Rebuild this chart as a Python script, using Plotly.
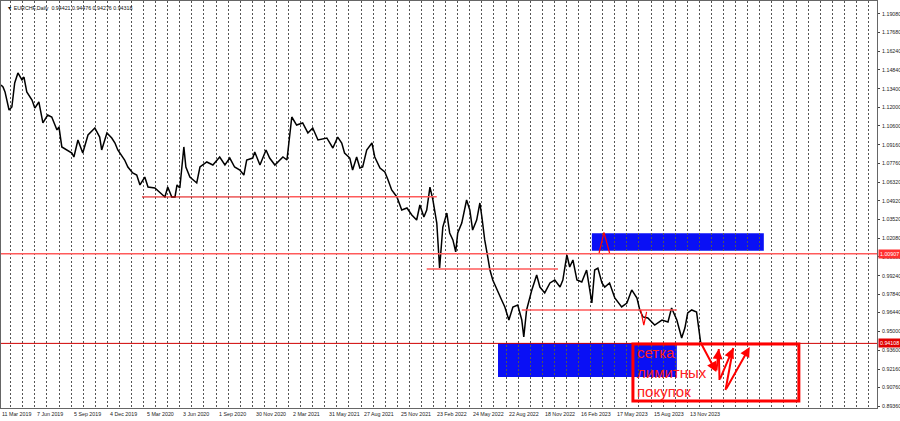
import plotly.graph_objects as go

# ---------------- data ----------------
dates = [
 "2019-03-11","2019-03-16","2019-03-21","2019-03-31","2019-04-07","2019-04-14","2019-04-22","2019-05-02","2019-05-07","2019-05-14",
 "2019-05-27","2019-06-03","2019-06-13","2019-06-23","2019-07-05","2019-07-15","2019-07-28","2019-08-02","2019-08-09","2019-08-21",
 "2019-09-03","2019-09-08","2019-09-18","2019-09-30","2019-10-13","2019-10-30","2019-11-11","2019-11-16","2019-11-29","2019-12-11",
 "2019-12-19","2019-12-26","2020-01-12","2020-01-20","2020-02-01","2020-02-11","2020-02-19","2020-03-02","2020-03-10","2020-03-27",
 "2020-04-08","2020-04-21","2020-04-28","2020-05-08","2020-05-16","2020-05-21","2020-05-28","2020-06-02","2020-06-07","2020-06-12",
 "2020-06-22","2020-07-09","2020-07-17","2020-08-03","2020-08-18","2020-09-04","2020-09-17","2020-09-29","2020-10-11","2020-10-24",
 "2020-11-03","2020-11-10","2020-11-25","2020-11-30","2020-12-13","2020-12-28","2021-01-06","2021-01-19","2021-01-26","2021-02-08",
 "2021-02-18","2021-02-25","2021-03-02","2021-03-14","2021-03-29","2021-04-11","2021-04-23","2021-05-06","2021-05-28","2021-06-12",
 "2021-06-24","2021-07-04","2021-07-11","2021-07-24","2021-07-31","2021-08-10","2021-08-18","2021-08-25","2021-09-04","2021-09-17",
 "2021-09-24","2021-10-07","2021-10-19","2021-10-27","2021-11-05","2021-11-18","2021-11-30","2021-12-13","2021-12-25","2022-01-06",
 "2022-01-14","2022-01-24","2022-01-31","2022-02-08","2022-02-15","2022-02-25","2022-03-04","2022-03-12","2022-03-22","2022-03-29",
 "2022-04-06","2022-04-13","2022-04-18","2022-04-28","2022-05-10","2022-05-18","2022-05-25","2022-06-04","2022-06-12","2022-06-17",
 "2022-06-24","2022-07-02","2022-07-07","2022-07-14","2022-07-27","2022-08-05","2022-08-13","2022-08-23","2022-09-02","2022-09-14",
 "2022-09-24","2022-09-29","2022-10-06","2022-10-19","2022-10-31","2022-11-08","2022-11-20","2022-12-03","2022-12-15","2022-12-28",
 "2023-01-04","2023-01-14","2023-01-21","2023-01-29","2023-02-08","2023-02-20","2023-03-04","2023-03-17","2023-03-24","2023-04-01",
 "2023-04-11","2023-04-18","2023-04-30","2023-05-13","2023-05-30","2023-06-12","2023-06-24","2023-07-07","2023-07-14","2023-07-22",
 "2023-08-03","2023-08-20","2023-09-07","2023-09-22","2023-10-01","2023-10-14","2023-10-26","2023-11-03","2023-11-10","2023-11-20",
 "2023-12-02","2023-12-10","2023-12-12"]
prices = [
 1.1370,1.1355,1.1317,1.1180,1.1203,1.1385,1.1461,1.1408,1.1430,1.1317,
 1.1256,1.1195,1.1241,1.1082,1.1142,1.1127,1.1029,1.1051,1.0900,1.0877,
 1.0854,1.0824,1.0953,1.0854,1.0991,1.1044,1.0975,1.0877,1.1006,1.0968,
 1.0930,1.0877,1.0801,1.0748,1.0703,1.0687,1.0612,1.0672,1.0596,1.0589,
 1.0558,1.0521,1.0596,1.0521,1.0521,1.0612,1.0589,1.0748,1.0900,1.0748,
 1.0672,1.0627,1.0748,1.0786,1.0763,1.0824,1.0763,1.0816,1.0748,1.0725,
 1.0687,1.0801,1.0816,1.0862,1.0763,1.0877,1.0816,1.0763,1.0786,1.0824,
 1.0801,1.1006,1.1127,1.1066,1.1082,1.1006,1.1044,1.0953,1.0968,1.0892,
 1.0975,1.0930,1.0854,1.0816,1.0725,1.0824,1.0740,1.0748,1.0877,1.0930,
 1.0824,1.0740,1.0710,1.0649,1.0574,1.0521,1.0422,1.0437,1.0384,1.0346,
 1.0460,1.0369,1.0422,1.0596,1.0505,1.0323,0.9982,1.0293,1.0399,1.0248,
 1.0195,1.0104,1.0248,1.0323,1.0498,1.0422,1.0270,1.0346,1.0475,1.0369,
 1.0195,1.0058,0.9967,0.9891,0.9793,0.9740,0.9687,0.9588,0.9687,0.9702,
 0.9588,0.9459,0.9664,0.9816,0.9929,0.9838,0.9793,0.9869,0.9891,0.9838,
 0.9891,1.0081,0.9990,1.0043,0.9891,0.9876,0.9967,0.9717,0.9967,0.9982,
 0.9869,0.9838,0.9869,0.9755,0.9687,0.9717,0.9816,0.9755,0.9664,0.9611,
 0.9603,0.9550,0.9588,0.9573,0.9679,0.9588,0.9452,0.9527,0.9641,0.9664,
 0.9649,0.9452,0.9421]

x_tick_dates = ["2019-03-11","2019-06-07","2019-09-05","2019-12-04","2020-03-05","2020-06-03","2020-09-01",
                "2020-11-30","2021-03-02","2021-05-31","2021-08-27","2021-11-25","2022-02-23","2022-05-24",
                "2022-08-22","2022-11-18","2023-02-16","2023-05-17","2023-08-15","2023-11-13"]
x_tick_text = ["11 Mar 2019","7 Jun 2019","5 Sep 2019","4 Dec 2019","5 Mar 2020","3 Jun 2020","1 Sep 2020",
               "30 Nov 2020","2 Mar 2021","31 May 2021","27 Aug 2021","25 Nov 2021","23 Feb 2022","24 May 2022",
               "22 Aug 2022","18 Nov 2022","16 Feb 2023","17 May 2023","15 Aug 2023","13 Nov 2023"]
y_ticks = [1.19080,1.17680,1.16240,1.14840,1.13400,1.12000,1.10600,1.09160,1.07760,1.06320,1.04920,
           1.03520,1.02080,1.00680,0.99240,0.97840,0.96440,0.95000,0.93600,0.92160,0.90760,0.89360]

header = "EURCHF,Daily  0.94421 0.94476 0.94276 0.94318"
level_res = 1.00907
level_bid = 0.94108
box_text = "сетка<br>лимитных<br>покупок"

RED = "#ff0000"
LRED = "#ff5a5a"
BLUE = "#0a10f5"
SMALL = 5.3

fig = go.Figure()
fig.add_trace(go.Scatter(x=dates, y=prices, mode="lines",
                         line=dict(color="black", width=1.5), hoverinfo="skip"))

shapes = [
    # horizontal levels
    dict(type="line", xref="x", yref="y", x0="2020-02-24", x1="2021-02-25", y0=1.0521, y1=1.0521,
         line=dict(color="#e00000", width=1)),
    dict(type="line", xref="x", yref="y", x0="2021-02-25", x1="2022-02-25", y0=1.0523, y1=1.0523,
         line=dict(color=LRED, width=1.6)),
    dict(type="line", xref="paper", yref="y", x0=0, x1=1, y0=level_res, y1=level_res,
         line=dict(color=LRED, width=1.6)),
    dict(type="line", xref="x", yref="y", x0="2022-01-31", x1="2022-12-23", y0=0.9975, y1=0.9975,
         line=dict(color=LRED, width=1.6)),
    dict(type="line", xref="x", yref="y", x0="2022-09-24", x1="2023-10-14", y0=0.9664, y1=0.9664,
         line=dict(color=LRED, width=1.6)),
    dict(type="line", xref="paper", yref="y", x0=0, x1=1, y0=level_bid, y1=level_bid,
         line=dict(color="#d00000", width=1)),
    # blue zones
    dict(type="rect", xref="x", yref="y", x0="2023-03-17", x1="2024-05-17", y0=1.0113, y1=1.0246,
         fillcolor=BLUE, line=dict(width=0), layer="below"),
    dict(type="rect", xref="x", yref="y", x0="2022-07-27", x1="2023-10-14", y0=0.9156, y1=0.9414,
         fillcolor=BLUE, line=dict(width=0), layer="below"),
    # red outlined box
    dict(type="rect", xref="x", yref="y", x0="2023-06-27", x1="2024-08-12", y0=0.8974, y1=0.9406,
         line=dict(color=RED, width=3)),
    # small red marks
    dict(type="path", xref="x", yref="y",
         path="M 2023-04-04,1.0096 L 2023-04-16,1.0253 L 2023-04-30,1.0096",
         line=dict(color=RED, width=1.2)),
    dict(type="path", xref="x", yref="y",
         path="M 2023-07-16,0.9664 L 2023-07-24,0.9550 L 2023-07-31,0.9649",
         line=dict(color=RED, width=1.2)),
]

annotations = []
# x labels, left aligned like the terminal
for d, t in zip(x_tick_dates, x_tick_text):
    annotations.append(dict(x=d, xref="x", y=0, yref="paper", text=t, showarrow=False,
                            xanchor="left", yanchor="top", yshift=-1, xshift=-1,
                            font=dict(size=SMALL, color="#222", family="Liberation Sans")))
# header
annotations.append(dict(x=0.004, xref="paper", y=1, yref="paper", text="▼ " + header, showarrow=False,
                        xanchor="left", yanchor="top", yshift=-2,
                        font=dict(size=SMALL, color="#111", family="Liberation Sans")))
# axis price labels
annotations.append(dict(x=1, xref="paper", y=level_res, yref="y", text=f"{level_res:.5f}", showarrow=False,
                        xanchor="left", yanchor="middle", bgcolor="#ff3030", borderpad=1, xshift=1,
                        font=dict(size=SMALL, color="white", family="Liberation Sans")))
annotations.append(dict(x=1, xref="paper", y=level_bid, yref="y", text=f"{level_bid:.5f}", showarrow=False,
                        xanchor="left", yanchor="middle", bgcolor="#e00000", borderpad=1, xshift=1,
                        font=dict(size=SMALL, color="white", family="Liberation Sans")))
# text inside the box
annotations.append(dict(x="2023-07-03", xref="x", y=0.9420, yref="y", text=box_text, showarrow=False,
                        xanchor="left", yanchor="top", align="left",
                        font=dict(size=15, color="#ff2020", family="Liberation Sans")))
# zig-zag arrows
arrows = [
    ("2023-12-10", 0.9429, "2024-01-20", 0.9194),
    ("2024-01-20", 0.9194, "2024-01-26", 0.9368),
    ("2024-01-28", 0.9133, "2024-03-02", 0.9376),
    ("2024-02-12", 0.9057, "2024-04-12", 0.9384),
]
for ax_, ay_, x_, y_ in arrows:
    annotations.append(dict(x=x_, y=y_, xref="x", yref="y", ax=ax_, ay=ay_, axref="x", ayref="y",
                            text="", showarrow=True, arrowhead=2, arrowsize=1, arrowwidth=2,
                            arrowcolor=RED))
# connecting down strokes
shapes += [
    dict(type="path", xref="x", yref="y",
         path="M 2024-01-26,0.9368 L 2024-01-28,0.9133", line=dict(color=RED, width=2)),
    dict(type="path", xref="x", yref="y",
         path="M 2024-03-02,0.9376 L 2024-02-12,0.9057", line=dict(color=RED, width=2)),
]

fig.update_layout(
    width=900, height=421,
    margin=dict(l=1, r=23, t=1, b=13, autoexpand=False),
    plot_bgcolor="white", paper_bgcolor="white",
    showlegend=False,
    shapes=shapes, annotations=annotations,
    xaxis=dict(type="date", range=["2019-03-11", "2025-02-22"], automargin=False,
               showticklabels=False, showgrid=False, ticks="",
               showline=True, linecolor="#666", linewidth=1, mirror=True, zeroline=False,
               minor=dict(tick0="2019-03-05", dtick=30 * 86400000, showgrid=True,
                          gridcolor="#555", griddash="2px,2px", gridwidth=1, ticks="")),
    yaxis=dict(side="right", range=[0.89209, 1.20065], tickvals=y_ticks, automargin=False,
               ticktext=[f"{v:.5f}" for v in y_ticks],
               tickfont=dict(size=SMALL, color="#222", family="Liberation Sans"),
               ticks="outside", ticklen=2, tickcolor="#444", ticklabelstandoff=1,
               showgrid=False, zeroline=False,
               showline=True, linecolor="#666", linewidth=1, mirror=True),
)

fig.write_html("out.html", config={"displayModeBar": False},
               post_script="document.body.style.margin='0';document.body.style.padding='0';"
                           "document.body.style.overflow='hidden';")
